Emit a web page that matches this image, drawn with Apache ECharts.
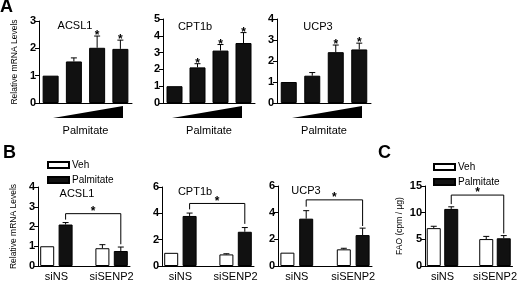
<!DOCTYPE html>
<html>
<head>
<meta charset="utf-8">
<script src="https://cdn.jsdelivr.net/npm/echarts@6/dist/echarts.min.js"></script>
<style>
html, body { margin: 0; padding: 0; background: #fff; }
#chart { width: 520px; height: 282px; }
</style>
</head>
<body>
<div id="chart"></div>
<script>
// panel A: rising palmitate doses
const doses = ['d0', 'd1', 'd2', 'd3'];
const acslDose = [1.0, 1.52, 2.02, 1.98];
const acslDoseErr = [0, 0.13, 0.43, 0.32];
const acslDoseSig = [0, 0, 1, 1];
const cptDose = [1.0, 2.12, 3.12, 3.57];
const cptDoseErr = [0, 0.22, 0.36, 0.62];
const cptDoseSig = [0, 1, 1, 1];
const ucpDose = [1.0, 1.3, 2.42, 2.55];
const ucpDoseErr = [0, 0.15, 0.34, 0.3];
const ucpDoseSig = [0, 0, 1, 1];

// panels B and C: siNS vs siSENP2
const groups = ['siNS', 'siSENP2'];
const acslVeh = [1.0, 0.9], acslVehErr = [0, 0.18];
const acslPal = [2.1, 0.76], acslPalErr = [0.1, 0.2];
const cptVeh = [1.0, 0.88], cptVehErr = [0, 0.05];
const cptPal = [3.8, 2.6], cptPalErr = [0.22, 0.32];
const ucpVeh = [1.0, 1.25], ucpVehErr = [0, 0.08];
const ucpPal = [3.55, 2.32], ucpPalErr = [0.6, 0.52];
const faoVeh = [7.1, 5.05], faoVehErr = [0.35, 0.5];
const faoPal = [10.7, 5.2], faoPalErr = [0.4, 0.5];

// bracket: [top, left end, right end] in data units
const acslBracket = [2.65, 2.35, 1.1];
const cptBracket = [4.75, 4.3, 3.2];
const ucpBracket = [4.96, 4.45, 3.0];
const faoBracket = [13.3, 11.6, 6.1];

const font = 'Liberation Sans, Arial, sans-serif';
const black = '#000';

// 11 half-step slots: veh at 1/7, pal at 3/9, group labels at 2/8
const slots = Array.from({ length: 11 }, (_, k) => 's' + k);
slots[2] = groups[0];
slots[8] = groups[1];
const vehSlots = [1, 7], palSlots = [3, 9];

const grids = [
  { left: 39, top: 21, width: 93, height: 82 },
  { left: 163, top: 19, width: 92, height: 84 },
  { left: 277, top: 19, width: 94, height: 84 },
  { left: 38, top: 187, width: 92, height: 81 },
  { left: 162, top: 187, width: 92, height: 82 },
  { left: 278, top: 186, width: 94, height: 82 },
  { left: 425, top: 186, width: 92, height: 82 }
];

const xAxes = grids.map((g, i) => {
  const dose = i < 3;
  return {
    type: 'category',
    gridIndex: i,
    data: dose ? doses : slots,
    boundaryGap: dose,
    name: dose ? 'Palmitate' : '',
    nameLocation: 'middle',
    nameGap: 22,
    nameTextStyle: { color: black, fontSize: 11, fontFamily: font },
    axisLine: { lineStyle: { color: black, width: 1 } },
    axisTick: { show: false },
    axisLabel: {
      show: !dose,
      interval: 0,
      margin: 5,
      color: black,
      fontSize: 11,
      fontFamily: font,
      formatter: v => groups.includes(v) ? v : ''
    }
  };
});

function yAxis(i, max, interval, name, gap) {
  return {
    type: 'value',
    gridIndex: i,
    min: 0,
    max: max,
    interval: interval,
    name: name,
    nameLocation: 'middle',
    nameGap: gap,
    nameTextStyle: { color: black, fontSize: 8.5, fontFamily: font },
    axisLine: { show: true, lineStyle: { color: black, width: 1 } },
    axisTick: { show: true, length: 4, lineStyle: { color: black } },
    axisLabel: { margin: 3, color: black, fontSize: 11, fontWeight: 'bold', fontFamily: font },
    splitLine: { show: false }
  };
}

const yAxes = [
  yAxis(0, 3, 1, 'Relative mRNA Levels', 20),
  yAxis(1, 5, 1, '', 0),
  yAxis(2, 4, 1, '', 0),
  yAxis(3, 4, 1, 'Relative mRNA Levels', 20),
  yAxis(4, 6, 2, '', 0),
  yAxis(5, 6, 2, '', 0),
  yAxis(6, 15, 5, 'FAO (cpm / µg)', 21)
];

function starText(x, y) {
  return {
    type: 'text', x: x, y: y,
    style: { text: '*', fill: black, font: 'bold 12px ' + font, align: 'center', verticalAlign: 'bottom' }
  };
}

function renderErr(params, api) {
  const v = api.value(1), e = api.value(2), sig = api.value(3);
  const base = api.coord([api.value(0), v]);
  const top = api.coord([api.value(0), v + e]);
  const kids = [];
  if (e > 0) {
    kids.push({ type: 'line', shape: { x1: base[0], y1: base[1], x2: top[0], y2: top[1] }, style: { stroke: black, lineWidth: 1 } });
    kids.push({ type: 'line', shape: { x1: top[0] - 3, y1: top[1], x2: top[0] + 3, y2: top[1] }, style: { stroke: black, lineWidth: 1 } });
  }
  if (sig) kids.push(starText(top[0], top[1] + 6));
  return { type: 'group', children: kids };
}

function renderBracket(params, api) {
  const l = api.coord([api.value(0), api.value(2)]);
  const r = api.coord([api.value(1), api.value(2)]);
  const le = api.coord([api.value(0), api.value(3)]);
  const re = api.coord([api.value(1), api.value(4)]);
  return {
    type: 'group',
    children: [
      { type: 'polyline', shape: { points: [le, l, r, re] }, style: { stroke: black, lineWidth: 1, fill: null } },
      starText((l[0] + r[0]) / 2, l[1] + 4)
    ]
  };
}

function errSeries(i, vals, errs, sig, idx) {
  return {
    type: 'custom',
    xAxisIndex: i, yAxisIndex: i,
    renderItem: renderErr,
    encode: { x: 0, y: 1 },
    z: 5,
    data: vals.map((v, k) => [idx ? idx[k] : k, v, errs[k], sig ? sig[k] : 0])
  };
}

const series = [];

// panel A
[[acslDose, acslDoseErr, acslDoseSig], [cptDose, cptDoseErr, cptDoseSig], [ucpDose, ucpDoseErr, ucpDoseSig]].forEach((d, i) => {
  series.push({
    type: 'bar', name: 'dose' + i,
    xAxisIndex: i, yAxisIndex: i,
    barWidth: 16,
    itemStyle: { color: '#111', borderColor: black, borderWidth: 1 },
    data: d[0]
  });
  series.push(errSeries(i, d[0], d[1], d[2]));
});

// panels B and C
function toSlots(vals, idx) {
  const out = slots.map(() => '-');
  vals.forEach((v, k) => { out[idx[k]] = v; });
  return out;
}
[
  [acslVeh, acslVehErr, acslPal, acslPalErr, acslBracket],
  [cptVeh, cptVehErr, cptPal, cptPalErr, cptBracket],
  [ucpVeh, ucpVehErr, ucpPal, ucpPalErr, ucpBracket],
  [faoVeh, faoVehErr, faoPal, faoPalErr, faoBracket]
].forEach((d, k) => {
  const i = k + 3;
  series.push({
    type: 'bar', name: 'Veh',
    xAxisIndex: i, yAxisIndex: i,
    barWidth: 14, barGap: '-100%',
    itemStyle: { color: '#fff', borderColor: black, borderWidth: 1 },
    data: toSlots(d[0], vehSlots)
  });
  series.push({
    type: 'bar', name: 'Palmitate',
    xAxisIndex: i, yAxisIndex: i,
    barWidth: 14, barGap: '-100%',
    itemStyle: { color: '#111', borderColor: black, borderWidth: 1 },
    data: toSlots(d[2], palSlots)
  });
  series.push(errSeries(i, d[0], d[1], null, vehSlots));
  series.push(errSeries(i, d[2], d[3], null, palSlots));
  series.push({
    type: 'custom',
    xAxisIndex: i, yAxisIndex: i,
    renderItem: renderBracket,
    encode: { x: [0, 1], y: [2, 3, 4] },
    z: 6,
    data: [[palSlots[0], palSlots[1], d[4][0], d[4][1], d[4][2]]]
  });
});

const legendStyle = {
  orient: 'vertical',
  itemWidth: 21, itemHeight: 6, itemGap: 5,
  icon: 'rect', padding: 0,
  data: ['Veh', 'Palmitate'],
  textStyle: { color: black, fontSize: 10, fontFamily: font, padding: [0, 0, 0, -2] }
};

function label(text, x, y, size, weight, align) {
  return {
    type: 'text', x: x, y: y,
    style: { text: text, fill: black, font: (weight || 'normal') + ' ' + size + 'px ' + font, align: align || 'center', verticalAlign: 'middle' }
  };
}
function wedge(x1, x2, yTop, yBot) {
  return { type: 'polygon', shape: { points: [[x1, yBot], [x2, yBot], [x2, yTop]] }, style: { fill: black } };
}

const chart = echarts.init(document.getElementById('chart'), null, { renderer: 'canvas' });
chart.setOption({
  animation: false,
  backgroundColor: '#fff',
  grid: grids,
  xAxis: xAxes,
  yAxis: yAxes,
  legend: [
    Object.assign({ left: 47, top: 160 }, legendStyle),
    Object.assign({ left: 433, top: 162 }, legendStyle)
  ],
  graphic: [
    label('A', 0, 7, 18, 'bold', 'left'),
    label('B', 3, 153, 18, 'bold', 'left'),
    label('C', 378, 153, 18, 'bold', 'left'),
    label('ACSL1', 75, 26, 11),
    label('CPT1b', 195, 27, 11),
    label('UCP3', 318, 27, 11),
    label('ACSL1', 77, 194, 11),
    label('CPT1b', 195, 192, 11),
    label('UCP3', 306, 191, 11),
    wedge(53, 123, 106, 118),
    wedge(172, 242, 106, 118),
    wedge(292, 362, 106, 118)
  ],
  series: series
});
</script>
</body>
</html>
